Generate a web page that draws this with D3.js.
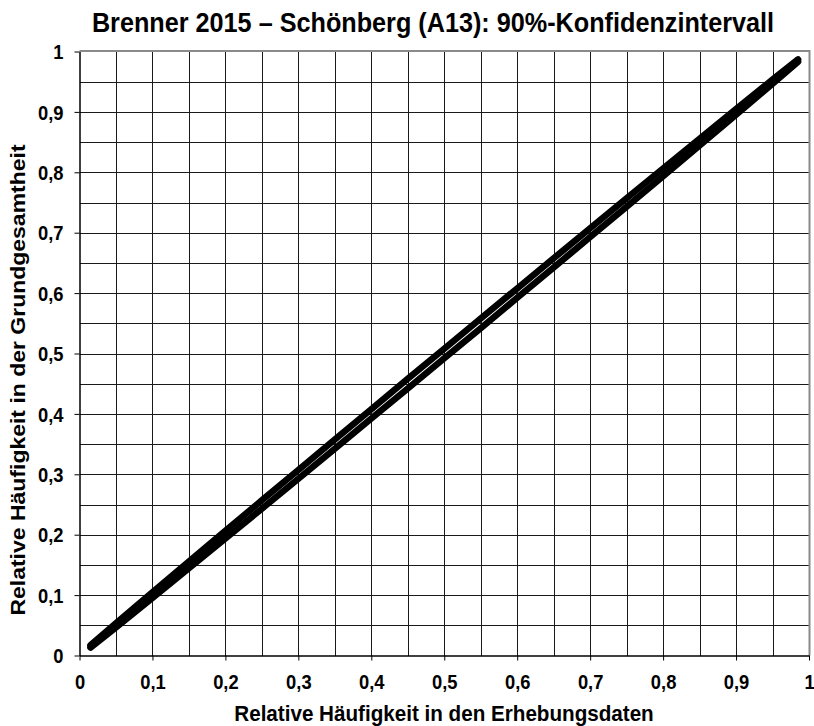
<!DOCTYPE html>
<html><head><meta charset="utf-8">
<script src="https://cdn.jsdelivr.net/npm/d3@7"></script>
<style>
html,body{margin:0;padding:0;background:#fff;}
text{font-family:"Liberation Sans",Arial,sans-serif;font-weight:bold;fill:#000;}
</style></head>
<body><svg id="chart" width="814" height="726"></svg>
<script>
const title = "Brenner 2015 – Schönberg (A13): 90%-Konfidenzintervall";
const xTitle = "Relative Häufigkeit in den Erhebungsdaten";
const yTitle = "Relative Häufigkeit in der Grundgesamtheit";
const tickValues = [0,0.1,0.2,0.3,0.4,0.5,0.6,0.7,0.8,0.9,1];
const tickLabels = ["0","0,1","0,2","0,3","0,4","0,5","0,6","0,7","0,8","0,9","1"];
const gridValues = [0.05,0.1,0.15,0.2,0.25,0.3,0.35,0.4,0.45,0.5,0.55,0.6,0.65,0.7,0.75,0.8,0.85,0.9,0.95];
const sampleShare = [0.015,0.05,0.1,0.15,0.2,0.25,0.3,0.35,0.4,0.45,0.5,0.55,0.6,0.65,0.7,0.75,0.8,0.85,0.9,0.95,0.985];
const lowerBound = [0.0131,0.0465,0.0952,0.1443,0.1936,0.2431,0.2927,0.3424,0.3922,0.4420,0.4920,0.5420,0.5922,0.6424,0.6927,0.7431,0.7936,0.8443,0.8952,0.9465,0.9831];
const upperBound = [0.0169,0.0535,0.1048,0.1557,0.2064,0.2569,0.3073,0.3576,0.4078,0.4580,0.5080,0.5580,0.6078,0.6576,0.7073,0.7569,0.8064,0.8557,0.9048,0.9535,0.9869];

const svg = d3.select("#chart");
const L = 79.5, R = 809, T = 51.5, B = 655.5;
const SX = 0.917; // horizontal squeeze of text
const x = d3.scaleLinear().domain([0,1]).range([L,R]);
const y = d3.scaleLinear().domain([0,1]).range([B,T]);

// grid
const g = svg.append("g");
g.selectAll("line.v").data(gridValues).enter().append("line")
  .attr("x1",d=>Math.round(x(d))+0.5).attr("x2",d=>Math.round(x(d))+0.5)
  .attr("y1",T).attr("y2",B).attr("stroke","#1a1a1a").attr("stroke-width",1).attr("shape-rendering","crispEdges");
g.selectAll("line.h").data(gridValues).enter().append("line")
  .attr("y1",d=>Math.round(y(d))+0.5).attr("y2",d=>Math.round(y(d))+0.5)
  .attr("x1",L).attr("x2",R).attr("stroke","#1a1a1a").attr("stroke-width",1).attr("shape-rendering","crispEdges");
// frame top/right
svg.append("line").attr("x1",L).attr("x2",R).attr("y1",T-0.5).attr("y2",T-0.5).attr("stroke","#8a8a8a").attr("stroke-width",2);
svg.append("line").attr("x1",R+0.5).attr("x2",R+0.5).attr("y1",T-1.5).attr("y2",B).attr("stroke","#8a8a8a").attr("stroke-width",2);

// axes
const xAxis = d3.axisBottom(x).tickValues(tickValues).tickFormat((d,i)=>tickLabels[i]).tickSize(5).tickSizeOuter(0);
const yAxis = d3.axisLeft(y).tickValues(tickValues).tickFormat((d,i)=>tickLabels[i]).tickSize(5).tickSizeOuter(0);
const gx = svg.append("g").attr("transform",`translate(0,${B})`).call(xAxis);
const gy = svg.append("g").attr("transform",`translate(${L},0)`).call(yAxis);
[gx,gy].forEach(a=>{
  a.select(".domain").attr("stroke","#000").attr("stroke-width",1.5);
  a.selectAll(".tick line").attr("stroke","#000").attr("stroke-width",1);
  a.selectAll(".tick text").style("font-family","'Liberation Sans',Arial,sans-serif").style("font-weight","bold").style("font-size","20px").attr("fill","#000");
});
gx.selectAll(".tick text").attr("dy",null).attr("y",0).attr("transform",`translate(0,33) scale(${SX},1)`);
gy.selectAll(".tick text").attr("dy","0.36em").attr("x",0).attr("transform",`translate(-16,0) scale(${SX},1)`);

// CI lines
const line = d3.line().x((d,i)=>x(sampleShare[i])).y(d=>y(d));
[lowerBound, upperBound].forEach(arr=>{
  svg.append("path").datum(arr).attr("d",line).attr("fill","none")
    .attr("stroke","#000").attr("stroke-width",6.5).attr("stroke-linecap","round").attr("stroke-linejoin","round");
});

// titles
svg.append("text").attr("transform",`translate(433,32) scale(${SX},1)`).attr("text-anchor","middle").style("font-size","27.5px").text(title);
svg.append("text").attr("transform",`translate(444,721) scale(${SX},1)`).attr("text-anchor","middle").style("font-size","22.5px").text(xTitle);
svg.append("text").attr("transform",`translate(25,380) scale(${SX},1) rotate(-90)`).attr("text-anchor","middle").style("font-size","23px").text(yTitle);
</script></body></html>
